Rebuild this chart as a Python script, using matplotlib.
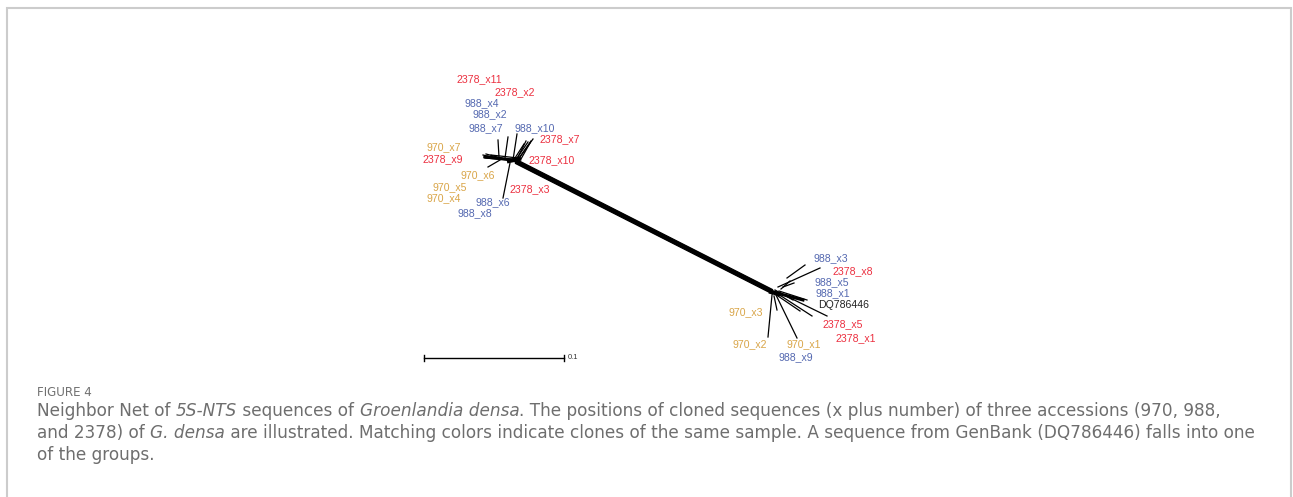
import numpy as np
import matplotlib
matplotlib.use("Agg")
import matplotlib.pyplot as plt
from matplotlib.patches import Rectangle

# network layout coordinates (SplitsTree layout units, 140 units = 0.1 subst./site)
hub_left = (0, 0)
hub_right = (260, -132)

# pendant / split edges: start x, start y, end x, end y
edge_x0 = [-14, 0, 7, 4, 2, -18, -16, -13, -3, -8, 6, 8, 5, 2, 3, 5, 3]
edge_y0 = [3, 0, 3, 2, 2, 2, 1, 0, -3, 2, 2, 1, 3, 0, -2, 2, -1]
edge_x1 = [-15, 4, 20, 15, 11, -30, -28, -25, -10, -5, 18, 17, 13, -26, -27, -22, -29]
edge_y1 = [20, 26, 21, 18, 16, 5, 2, -7, -38, 23, 19, 17, 19, 4, 6, 5, 3]

redge_x0 = [274, 265, 260, 262, 265, 267, 259, 261, 263, 266, 262, 268, 270]
redge_y0 = [-118, -127, -132, -134, -134, -133, -135, -136, -135, -131, -130, -129, -127]
redge_x1 = [292, 307, 290, 287, 299, 314, 255, 264, 284, 294, 280, 277, 281]
redge_y1 = [-105, -108, -140, -151, -156, -156, -177, -150, -178, -140, -140, -121, -123]

# leaf labels
labels = ["2378_x11", "2378_x2", "988_x4", "988_x2", "988_x7", "988_x10", "2378_x7",
          "970_x7", "2378_x9", "2378_x10", "970_x6", "970_x5", "2378_x3", "970_x4",
          "988_x6", "988_x8",
          "988_x3", "2378_x8", "988_x5", "988_x1", "DQ786446", "970_x3", "2378_x5",
          "2378_x1", "970_x2", "970_x1", "988_x9"]
label_x = [-34, 2, -31, -23, -27, 22, 47, -69, -70, 39, -35, -63, 17, -69, -20, -38,
           318, 340, 319, 320, 331, 233, 330, 343, 237, 291, 283]
label_y = [81, 68, 57, 46, 32, 32, 21, 13, 1, 0, -15, -27, -29, -38, -42, -53,
           -98, -111, -122, -133, -145, -152, -164, -178, -184, -184, -197]

sample_colors = {"970": "#d9a548", "988": "#5468b0", "2378": "#ec3040", "DQ786446": "#222222"}

scale_len = 140
scale_value = "0.1"

W, H = 1293, 497
fig = plt.figure(figsize=(W / 100, H / 100), dpi=100)
ax = fig.add_axes([0, 0, 1, 1])
ax.set_xlim(-513, W - 513)
ax.set_ylim(160 - H, 160)
ax.axis("off")

# long central split (bundle of parallel edges)
for off in np.linspace(-2.2, 2.2, 8):
    ax.plot([hub_left[0] + 2, hub_right[0]], [hub_left[1] + off - 1, hub_right[1] + off],
            color="black", lw=0.9, solid_capstyle="butt")

for x0, y0, x1, y1 in zip(edge_x0, edge_y0, edge_x1, edge_y1):
    ax.plot([x0, x1], [y0, y1], color="black", lw=0.9)
for x0, y0, x1, y1 in zip(redge_x0, redge_y0, redge_x1, redge_y1):
    ax.plot([x0, x1], [y0, y1], color="black", lw=0.9)

# dense knots at both hubs
ax.plot([-28, 0], [3, 0], color="black", lw=2.2)
ax.plot([-4, 6], [-1, 1], color="black", lw=3)
ax.plot([hub_right[0], 290], [hub_right[1], -140], color="black", lw=2.2)
ax.plot([hub_right[0] - 2, hub_right[0] + 6], [hub_right[1], hub_right[1] - 2], color="black", lw=3)

for lab, x, y in zip(labels, label_x, label_y):
    key = lab.split("_")[0]
    ax.text(x, y, lab, color=sample_colors[key], fontsize=7.6,
            family="Liberation Sans", ha="center", va="center")

# scale bar
sb_x, sb_y = -89, -198
ax.plot([sb_x, sb_x + scale_len], [sb_y, sb_y], color="black", lw=1)
ax.plot([sb_x, sb_x], [sb_y - 3, sb_y + 3], color="black", lw=1)
ax.plot([sb_x + scale_len, sb_x + scale_len], [sb_y - 3, sb_y + 3], color="black", lw=1)
ax.text(sb_x + scale_len + 4, sb_y, scale_value, fontsize=5.5, color="#333333",
        family="Liberation Sans", va="center", ha="left")

# frame
fig.patches.append(Rectangle((7 / W, -0.1), 1284 / W, 1.1 - 7.5 / H, transform=fig.transFigure,
                             fill=False, edgecolor="#cccccc", lw=1.5))

# caption
fig.text(37 / W, 1 - 392 / H, "FIGURE 4", fontsize=8.6, color="#707070",
         family="DejaVu Sans", va="center", ha="left")

caption = [
    [("Neighbor Net of ", "normal"), ("5S-NTS", "italic"), (" sequences of ", "normal"),
     ("Groenlandia densa", "italic"),
     (". The positions of cloned sequences (x plus number) of three accessions (970, 988,", "normal")],
    [("and 2378) of ", "normal"), ("G. densa", "italic"),
     (" are illustrated. Matching colors indicate clones of the same sample. A sequence from GenBank (DQ786446) falls into one", "normal")],
    [("of the groups.", "normal")],
]
renderer = fig.canvas.get_renderer()


def draw_line(pieces, y, size, draw=True):
    x = 37
    made = []
    for txt, style in pieces:
        t = fig.text(x / W, 1 - y / H, txt, fontsize=size, color="#6e6e6e", family="DejaVu Sans",
                     style=style, va="center", ha="left")
        x += t.get_window_extent(renderer).width
        made.append(t)
    if not draw:
        for t in made:
            t.remove()
    return x - 37


# fit the two long caption lines to the column width of the original
line_ends = [1263, 1258]
cap_size = min(10 * (end - 37) / draw_line(caption[i], 411, 10, draw=False)
               for i, end in enumerate(line_ends))
for i, line in enumerate(caption):
    draw_line(line, 411 + 22 * i, cap_size)

fig.savefig("out.png", dpi=100)
